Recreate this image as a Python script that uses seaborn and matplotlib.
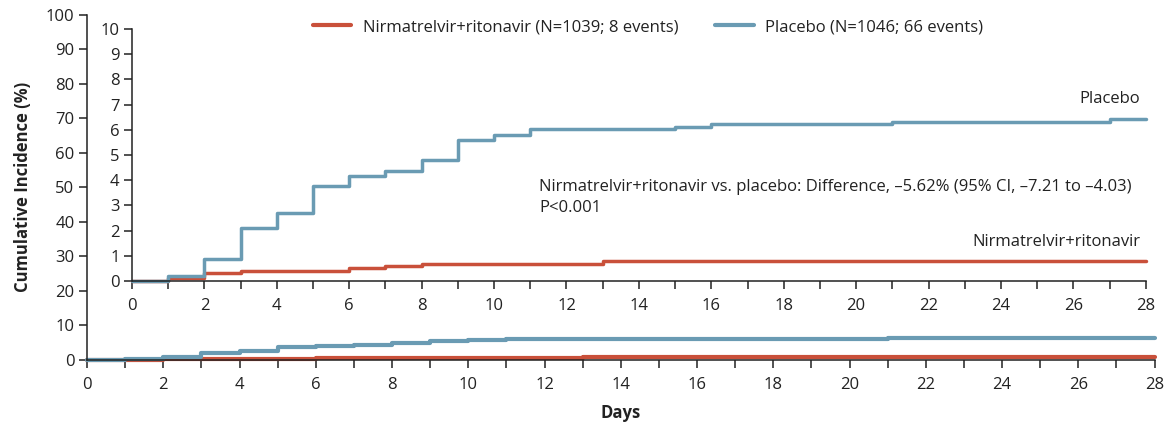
import numpy as np
import pandas as pd
import seaborn as sns
import matplotlib
matplotlib.use('Agg')
import matplotlib.pyplot as plt
from matplotlib.ticker import MultipleLocator

# 누적 발생률 (%) - 계단 변화 시점
placebo_days = [0, 1, 2, 3, 4, 5, 6, 7, 8, 9, 10, 11, 15, 16, 21, 27, 28]
placebo_pct = [0, 0.2, 0.87, 2.1, 2.7, 3.75, 4.15, 4.35, 4.81, 5.6, 5.8, 6.03, 6.12, 6.21, 6.3, 6.42, 6.42]
nirm_days = [0, 1, 2, 3, 6, 7, 8, 13, 28]
nirm_pct = [0, 0.13, 0.3, 0.4, 0.5, 0.6, 0.69, 0.79, 0.79]

groups = ['Nirmatrelvir+ritonavir', 'Placebo']
legend_labels = ['Nirmatrelvir+ritonavir (N=1039; 8 events)',
                 'Placebo (N=1046; 66 events)']
colors = {'Nirmatrelvir+ritonavir': '#c9503a', 'Placebo': '#6a9bb3'}

df = pd.concat([
    pd.DataFrame({'day': nirm_days, 'pct': nirm_pct, 'group': groups[0]}),
    pd.DataFrame({'day': placebo_days, 'pct': placebo_pct, 'group': groups[1]}),
])

sns.set_style('ticks')
plt.rcParams['font.family'] = ['Open Sans', 'DejaVu Sans']
txt = '#222222'
plt.rcParams['text.color'] = txt
plt.rcParams['axes.labelcolor'] = txt
plt.rcParams['xtick.color'] = txt
plt.rcParams['ytick.color'] = txt
plt.rcParams['axes.edgecolor'] = txt

fig = plt.figure(figsize=(11.68, 4.25), dpi=100)
ax = fig.add_axes([0.0745, 0.153, 0.914, 0.812])
axin = fig.add_axes([0.113, 0.339, 0.868, 0.593])
axin.patch.set_alpha(0)


def style_axis(a, ymax, ystep):
    a.set_xlim(0, 28)
    a.set_ylim(0, ymax)
    a.xaxis.set_major_locator(MultipleLocator(2))
    a.xaxis.set_minor_locator(MultipleLocator(1))
    a.yaxis.set_major_locator(MultipleLocator(ystep))
    a.tick_params(axis='both', which='both', direction='out', length=6,
                  width=1.1, labelsize=12, pad=3)
    a.tick_params(axis='x', pad=6)
    for s in ['top', 'right']:
        a.spines[s].set_visible(False)
    for s in ['left', 'bottom']:
        a.spines[s].set_linewidth(1.1)
    a.set_xlabel('')
    a.set_ylabel('')
    a.grid(False)


# 바깥쪽 (0-100) 축
sns.lineplot(data=df, x='day', y='pct', hue='group', palette=colors,
             estimator=None, drawstyle='steps-post', linewidth=3,
             legend=False, ax=ax, clip_on=False)
style_axis(ax, 100, 10)
ax.set_xlabel('Days', fontsize=12, fontweight='bold', labelpad=8)
ax.set_ylabel('Cumulative Incidence (%)', fontsize=12, fontweight='bold', labelpad=10)

# 확대 (0-10) 축
sns.lineplot(data=df, x='day', y='pct', hue='group', palette=colors,
             estimator=None, drawstyle='steps-post', linewidth=2.5,
             legend=False, ax=axin, clip_on=False)
style_axis(axin, 10, 1)

# 범례
handles = [plt.Line2D([], [], color=colors[g], lw=3) for g in groups]
fig.legend(handles, legend_labels, loc='upper center', ncol=2, frameon=False,
           bbox_to_anchor=(0.555, 0.99), fontsize=12, handlelength=2.3,
           columnspacing=2.2, handletextpad=0.7)

axin.text(27.85, 7.2, 'Placebo', ha='right', va='center', fontsize=12)
axin.text(27.85, 1.53, 'Nirmatrelvir+ritonavir', ha='right', va='center', fontsize=12)
axin.text(11.25, 3.3, 'Nirmatrelvir+ritonavir vs. placebo: Difference, \u20135.62% '
          '(95% CI, \u20137.21 to \u20134.03)\nP<0.001',
          ha='left', va='center', fontsize=12, linespacing=1.4)

fig.savefig('out.png', dpi=100)
